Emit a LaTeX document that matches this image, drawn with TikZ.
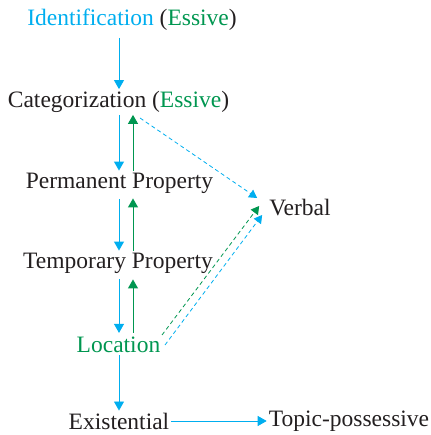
\documentclass[tikz,border=0pt]{standalone}
\usepackage{fontspec}
\setmainfont{Liberation Serif}
\usetikzlibrary{arrows.meta,calc}
\definecolor{cblue}{RGB}{0,174,239}
\definecolor{cgreen}{RGB}{0,150,80}
\definecolor{ink}{RGB}{35,31,32}
\begin{document}
\begin{tikzpicture}[x=1pt,y=1pt,
  lbl/.style={font=\fontsize{23.5}{28}\selectfont, inner sep=2pt, text=ink},
  down/.style={draw=cblue, line width=0.9pt, -{Triangle[length=9pt,width=10pt]}},
  up/.style={draw=cgreen, line width=0.9pt, -{Triangle[length=9pt,width=10pt]}},
  dblue/.style={draw=cblue, line width=0.8pt, dash pattern=on 4pt off 3pt, -{Triangle[length=8pt,width=9pt]}},
  dgreen/.style={draw=cgreen, line width=0.8pt, dash pattern=on 4pt off 3pt, -{Triangle[length=8pt,width=9pt]}}]
\useasboundingbox (0,0) rectangle (430,435);
% node texts
\node[lbl] (ident) at (132,415) {\textcolor{cblue}{Identification} (\textcolor{cgreen}{Essive})};
\node[lbl] (categ) at (118.5,333) {Categorization (\textcolor{cgreen}{Essive})};
\node[lbl] (perm) at (119.5,252) {Permanent Property};
\node[lbl] (temp) at (118,172) {Temporary Property};
\node[lbl, text=cgreen] (loc) at (118.5,90) {Location};
\node[lbl] (exist) at (119,14) {Existential};
\node[lbl] (topic) at (349,14) {Topic-possessive};
\node[lbl] (verbal) at (300,227) {Verbal};
% vertical guides
\coordinate (bx) at (119,0);
\coordinate (gx) at (133,0);
% main chain
\draw[down, shorten <=5pt] (ident.south -| bx) -- (categ.north -| bx);
\draw[down] (categ.south -| bx) -- (perm.north -| bx);
\draw[up] (perm.north -| gx) -- (categ.south -| gx);
\draw[down, shorten <=4pt] (perm.south -| bx) -- (temp.north -| bx);
\draw[up, shorten >=3pt] (temp.north -| gx) -- (perm.south -| gx);
\draw[down, shorten <=4pt, shorten >=2pt] (temp.south -| bx) -- (loc.north -| bx);
\draw[up, shorten <=2pt, shorten >=4pt] (loc.north -| gx) -- (temp.south -| gx);
\draw[down] (loc.south -| bx) -- (exist.north -| bx);
\draw[down] (exist.east) -- (topic.west);
% dashed links to Verbal
\draw[dblue] ([shift={(21.5,-16)}]categ.center) -- ([shift={(-10,10)}]verbal.west);
\draw[dgreen] ([shift={(43.5,10)}]loc.center) -- ([shift={(-8,2)}]verbal.west);
\draw[dblue] ([shift={(46.5,0)}]loc.center) -- ([shift={(-5,-7)}]verbal.west);
\end{tikzpicture}
\end{document}
